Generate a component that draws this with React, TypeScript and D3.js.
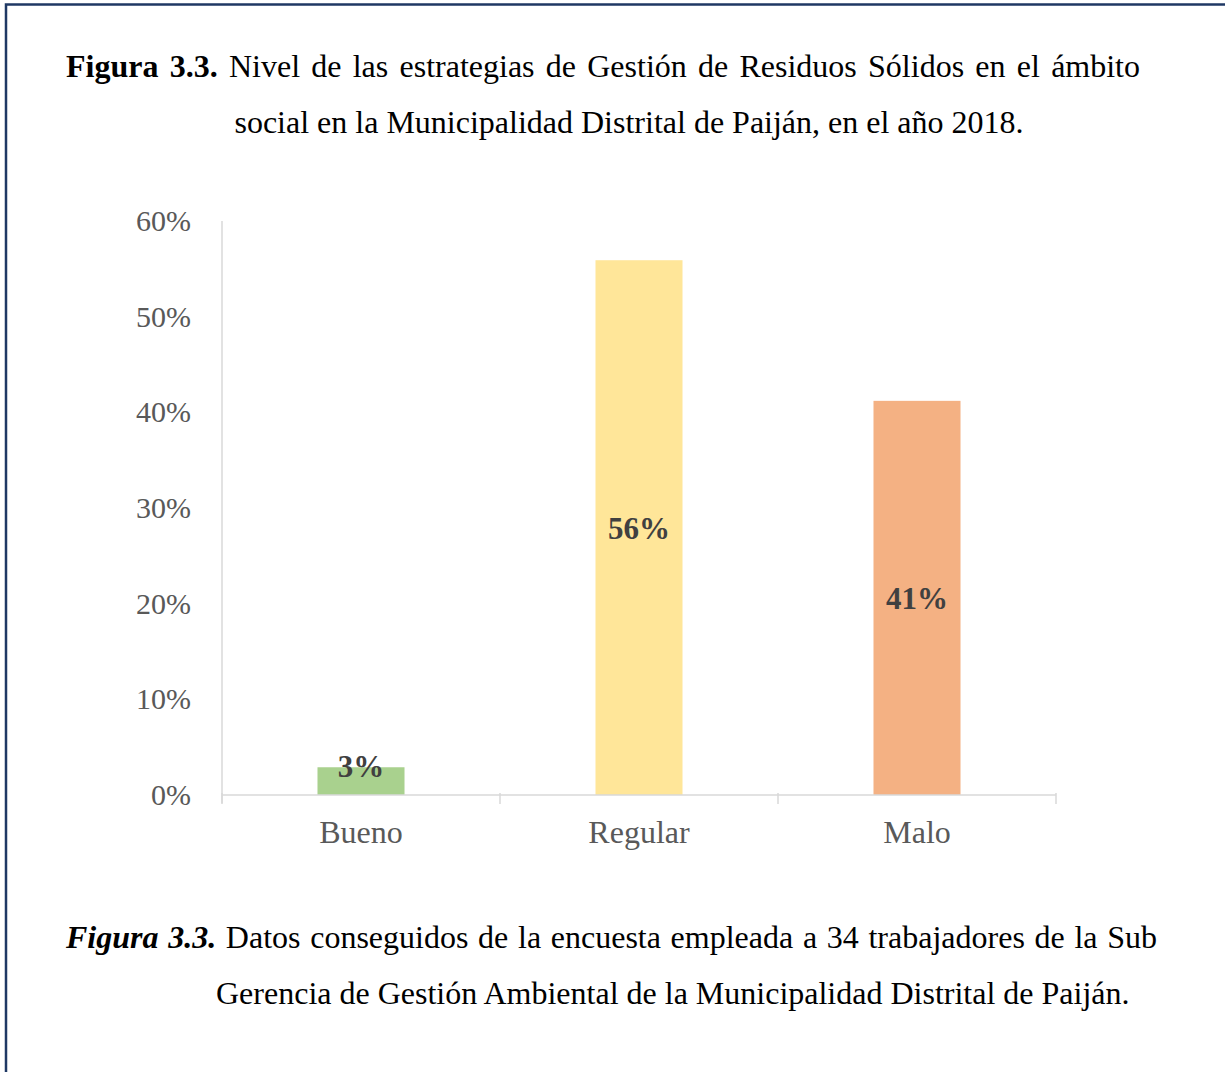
import React from "react";
import * as d3 from "d3";

const categories = ["Bueno", "Regular", "Malo"];
const values = [0.029, 0.559, 0.412];
const barColors = ["#A9D18E", "#FFE699", "#F4B183"];
const yTicks = [0, 0.1, 0.2, 0.3, 0.4, 0.5, 0.6];

const titleLine1 = [
  { text: "Figura 3.3.", weight: "bold", style: "normal" },
  { text: "Nivel de las estrategias de Gestión de Residuos Sólidos en el ámbito", weight: "normal", style: "normal" },
];
const titleLine2 = "social en la Municipalidad Distrital de Paiján, en el año 2018.";
const noteLine1 = [
  { text: "Figura 3.3.", weight: "bold", style: "italic" },
  { text: "Datos conseguidos de la encuesta empleada a 34 trabajadores de la Sub", weight: "normal", style: "normal" },
];
const noteLine2 = "Gerencia de Gestión Ambiental de la Municipalidad Distrital de Paiján.";

const W = 1225;
const H = 1072;
const FONT = "'Liberation Serif', 'Times New Roman', serif";
const TEXT_SIZE = 32;

let ctx: CanvasRenderingContext2D | null = null;
function measure(text: string, weight: string, style: string, size: number) {
  if (!ctx) ctx = document.createElement("canvas").getContext("2d");
  if (!ctx) return text.length * size * 0.45;
  ctx.font = `${style} ${weight} ${size}px 'Liberation Serif', 'Times New Roman', serif`;
  return ctx.measureText(text).width;
}

function Justified({ segments, x, y, width, size }: any) {
  const words: { text: string; weight: string; style: string; w: number }[] = [];
  segments.forEach((s: any) => {
    s.text.split(" ").forEach((t: string) => {
      words.push({ text: t, weight: s.weight, style: s.style, w: measure(t, s.weight, s.style, size) });
    });
  });
  const total = d3.sum(words, (d) => d.w);
  const gap = (width - total) / (words.length - 1);
  let cx = x;
  return (
    <g>
      {words.map((wd, i) => {
        const px = cx;
        cx += wd.w + gap;
        return (
          <text key={i} x={px} y={y} fontFamily={FONT} fontSize={size} fontWeight={wd.weight} fontStyle={wd.style} fill="#000">
            {wd.text}
          </text>
        );
      })}
    </g>
  );
}

export default function App() {
  const x = d3.scaleBand().domain(categories).range([222, 1056]).paddingInner(0.687).paddingOuter(0.3435);
  const y = d3.scaleLinear().domain([0, 0.6]).range([795, 221]);
  const fmt = d3.format(".0%");
  const step = x.step();
  const bounds = d3.range(categories.length + 1).map((i) => 222 + i * step);
  const y0 = y(0);

  return (
    <div style={{ position: "absolute", left: 0, top: 0 }}>
      <svg width={W} height={H} style={{ display: "block", background: "#fff" }}>
        <rect x={0} y={0} width={W} height={H} fill="#fff" />
        <path d={`M6,${H + 5} L6,4.5 L${W + 5},4.5`} fill="none" stroke="#1F3864" strokeWidth={2.5} />

        <Justified segments={titleLine1} x={66} y={77} width={1074} size={TEXT_SIZE} />
        <text x={629} y={133} textAnchor="middle" fontFamily={FONT} fontSize={TEXT_SIZE} fill="#000">
          {titleLine2}
        </text>

        {/* y axis */}
        <line x1={222} x2={222} y1={221} y2={803} stroke="#D9D9D9" strokeWidth={1.5} />
        {yTicks.map((t) => (
          <text key={t} x={191} y={y(t) + 10} textAnchor="end" fontFamily={FONT} fontSize={30} fill="#595959">
            {fmt(t)}
          </text>
        ))}

        {/* bars */}
        {categories.map((c, i) => (
          <rect key={c} x={x(c)} y={y(values[i])} width={x.bandwidth()} height={y0 - y(values[i])} fill={barColors[i]} />
        ))}

        {/* x axis */}
        <line x1={222} x2={1056} y1={y0} y2={y0} stroke="#D9D9D9" strokeWidth={1.5} />
        {bounds.map((b, i) => (
          <line key={i} x1={b} x2={b} y1={y0 - 2} y2={804} stroke="#D9D9D9" strokeWidth={1.5} />
        ))}
        {categories.map((c) => (
          <text key={c} x={(x(c) as number) + x.bandwidth() / 2} y={843} textAnchor="middle" fontFamily={FONT} fontSize={32} fill="#595959">
            {c}
          </text>
        ))}

        {/* data labels */}
        {categories.map((c, i) => {
          const mid = (y(values[i]) + y0) / 2;
          const ly = Math.min(mid + 11, y0 - 18);
          return (
            <text key={c} x={(x(c) as number) + x.bandwidth() / 2} y={ly} textAnchor="middle" fontFamily={FONT} fontSize={31} fontWeight="bold" fill="#404040">
              {fmt(values[i])}
            </text>
          );
        })}

        <Justified segments={noteLine1} x={66} y={948} width={1091} size={TEXT_SIZE} />
        <text x={216} y={1004} fontFamily={FONT} fontSize={TEXT_SIZE} fill="#000">
          {noteLine2}
        </text>
      </svg>
    </div>
  );
}
